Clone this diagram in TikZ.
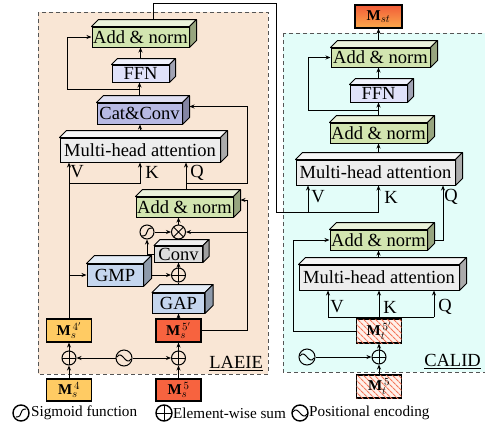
\documentclass[tikz,border=0pt]{standalone}
\usepackage{fontspec}
\setmainfont{Liberation Serif}
\usetikzlibrary{arrows.meta,calc,patterns.meta}
\pgfdeclarelayer{back}
\pgfdeclarelayer{bg}
\pgfsetlayers{back,bg,main}
\definecolor{peach}{HTML}{F9E6D5}
\definecolor{cyanp}{HTML}{E3FDF9}
\definecolor{greenb}{HTML}{D2E5B0}
\definecolor{lav}{HTML}{E0E2FA}
\definecolor{catc}{HTML}{B7B9E3}
\definecolor{mhac}{HTML}{EDEDED}
\definecolor{gmpc}{HTML}{C5D6EE}
\definecolor{convc}{HTML}{DDDDDD}
\definecolor{yel}{HTML}{FFCB63}
\definecolor{redb}{HTML}{F7633F}
\definecolor{hatchbg}{HTML}{FFF1EA}
\definecolor{hatchc}{HTML}{F4775A}
\definecolor{panelc}{HTML}{555555}
\definecolor{msttop}{HTML}{F25C38}
\definecolor{mstbot}{HTML}{FBA94C}
\tikzset{
  box/.style={draw, line width=1pt, inner sep=0pt, font=\fontsize{18.5}{20}\selectfont},
  boxline/.style={draw, line width=1pt, line join=round},
  arr/.style={line width=1pt, -{Stealth[length=5pt,width=4pt]}},
  ln/.style={line width=1pt},
  panel/.style={draw=panelc, line width=1pt, dash pattern=on 4pt off 3pt},
  mbox/.style={draw, line width=1.1pt, inner sep=0pt, minimum width=45pt, minimum height=23pt, font=\fontsize{15}{15}\selectfont},
  hatchbox/.style={mbox, fill=hatchbg, postaction={pattern={Lines[angle=-45,distance=4pt,line width=1.1pt]}, pattern color=hatchc}},
  op/.style={circle, draw, line width=1pt, minimum size=14pt, inner sep=0pt},
  plus/.style={op, path picture={\draw[line width=1pt] (path picture bounding box.north) -- (path picture bounding box.south) (path picture bounding box.west) -- (path picture bounding box.east);}},
  times/.style={op, path picture={\draw[line width=1pt] (path picture bounding box.north west) -- (path picture bounding box.south east) (path picture bounding box.north east) -- (path picture bounding box.south west);}},
  sigm/.style={op, path picture={\draw[line width=1pt] ($(path picture bounding box.center)+(-5,4)$) .. controls ($(path picture bounding box.center)+(3,4)$) and ($(path picture bounding box.center)+(-3,-4)$) .. ($(path picture bounding box.center)+(5,-4)$);}},
  pewave/.style={op, path picture={\draw[line width=1pt] ($(path picture bounding box.center)+(-7,-1)$) .. controls ($(path picture bounding box.center)+(-2,-9)$) and ($(path picture bounding box.center)+(2,9)$) .. ($(path picture bounding box.center)+(7,1)$);}},
  leg/.style={minimum size=16pt, line width=1.4pt},
  lab/.style={font=\fontsize{18.5}{20}\selectfont, inner sep=0pt},
  legt/.style={font=\fontsize{15.2}{18}\selectfont, inner sep=0pt, anchor=west},
}
\newcommand\mkblock[7]{%
  \node[box, fill=#6, minimum width=#3pt, minimum height=#4pt] (#1) at (#2) {#7};
  \draw[boxline, fill=#6!45!white] (#1.north west) -- ++(#5,-#5) -- ([shift={(#5,-#5)}]#1.north east) -- (#1.north east) -- cycle;
  \draw[boxline, fill=#6!72!black] (#1.north east) -- ++(#5,-#5) -- ([shift={(#5,-#5)}]#1.south east) -- (#1.south east) -- cycle;
}
\begin{document}
\begin{tikzpicture}[x=1pt,y=-1pt]
\useasboundingbox (0,0) rectangle (485,432);
\begin{pgfonlayer}{back}
  \fill[white] (0,0) rectangle (485,432);
  \draw[panel, fill=peach] (38,12) rectangle (268,374);
  \draw[panel, fill=cyanp] (283,33) rectangle (495,372);
\end{pgfonlayer}

% ---------- LAEIE ----------
\mkblock{an1}{140.5,37}{97}{20}{7}{greenb}{Add \& norm}
\mkblock{ffn1}{140.5,73.5}{57}{17}{6}{lav}{FFN}
\mkblock{cat}{139.5,113.5}{85}{21}{7}{catc}{Cat\&Conv}
\mkblock{mha1}{140,150}{160}{24}{7}{mhac}{Multi-head attention}
\mkblock{an2}{184.5,207}{97}{20}{7}{greenb}{Add \& norm}
\mkblock{conv}{178.5,254}{48}{16}{6}{convc}{Conv}
\mkblock{gmp}{115,275}{56}{22}{8}{gmpc}{GMP}
\mkblock{gap}{178.5,303}{52}{20}{8}{gmpc}{GAP}
\node[times] (otimes) at (178.5,232) {};
\node[sigm] (sig) at (147,232) {};
\node[plus] (oplus1) at (178.5,275) {};
\node[mbox, fill=yel] (m4p) at (69,330.5) {$\mathbf{M}_{s}^{\,4'}$};
\node[mbox, fill=redb] (m5p) at (178.5,330.5) {$\mathbf{M}_{s}^{\,5'}$};
\node[plus] (opL) at (69,358) {};
\node[pewave, minimum size=16pt] (pe1) at (124,358) {};
\node[plus] (opR) at (178.5,358) {};
\node[mbox, fill=yel, minimum height=22pt] (m4) at (69,390) {$\mathbf{M}_{s}^{\,4}$};
\node[mbox, fill=redb, minimum height=22pt] (m5) at (178.5,390) {$\mathbf{M}_{s}^{\,5}$};
\node[lab, anchor=south east] (laeie) at (263,371) {\underline{LAEIE}};
\node[lab] (lv1) at (77,172) {V};
\node[lab] (lk1) at (152,172) {K};
\node[lab] (lq1) at (197,173) {Q};

% ---------- CALID ----------
\node[mbox, draw, minimum width=47pt, top color=msttop, bottom color=mstbot] (mst) at (378.5,16.5) {$\mathbf{M}_{st}$};
\mkblock{an3}{380.5,57.5}{99}{19}{7}{greenb}{Add \& norm}
\mkblock{ffn2}{378.5,93.5}{57}{17}{6}{lav}{FFN}
\mkblock{an4}{378.5,133}{97}{20}{7}{greenb}{Add \& norm}
\mkblock{mha2}{375.5,172.5}{159}{25}{7}{mhac}{Multi-head attention}
\mkblock{an5}{378.5,240}{97}{20}{7}{greenb}{Add \& norm}
\mkblock{mha3}{379,277.5}{160}{25}{7}{mhac}{Multi-head attention}
\node[hatchbox, minimum height=24pt] (mt5p) at (379,331) {$\mathbf{M}_{t}^{\,5'}$};
\node[plus] (opC) at (379,357) {};
\node[pewave, minimum size=16pt] (peC) at (307,357) {};
\node[hatchbox] (mt5) at (379,386.5) {$\mathbf{M}_{t}^{\,5}$};
\node[lab, anchor=south east] (calid) at (481,369) {\underline{CALID}};
\node[lab] (lv2) at (318,197) {V};
\node[lab] (lk2) at (391,197) {K};
\node[lab] (lq2) at (451,197) {Q};
\node[lab] (lv3) at (337,307) {V};
\node[lab] (lk3) at (390,307) {K};
\node[lab] (lq3) at (445,307) {Q};

% ---------- legend ----------
\node[sigm, leg] (lg1) at (21,413) {};
\node[legt] (lt1) at (31,413) {Sigmoid function};
\node[plus, leg] (lg2) at (164,413) {};
\node[legt] (lt2) at (173,413) {Element-wise sum};
\node[pewave, leg] (lg3) at (300,413) {};
\node[legt] (lt3) at (309,413) {Positional encoding};

% ---------- helper coordinates ----------
\coordinate (lx) at (67,0);
\coordinate (rx) at (247,0);
\coordinate (qx) at (186,0);
\coordinate (kb) at (69,183);
\coordinate (rb) at (139.5,89);
\coordinate (an2R) at ([shift={(7,-7)}]an2.east);
\coordinate (catR) at ([shift={(7,-7)}]cat.east);
\coordinate (t1) at ($(an1.north)+(12.5,0)$);
\coordinate (ty) at (0,3);
\coordinate (bx) at (276,0);
\coordinate (by) at (0,212);
\coordinate (kx2) at (378.5,0);
\coordinate (vx2) at (308,0);
\coordinate (qx2) at (443,0);
\coordinate (rb2) at (378.5,110);
\coordinate (hb) at (0,317);
\coordinate (vx3) at (328,0);
\coordinate (qx3) at (434,0);
\coordinate (lx2) at (293,0);

\begin{pgfonlayer}{bg}
  % LAEIE
  \draw[arr] (m4.north) -- (opL.south);
  \draw[arr] (opL.north) -- (m4p.south);
  \draw[arr] (pe1.west) -- (opL.east);
  \draw[arr] (pe1.east) -- (opR.west);
  \draw[arr] (m5.north) -- (opR.south);
  \draw[arr] (opR.north) -- (m5p.south);
  \draw[arr] (m5p.north) -- (gap.south);
  \draw[arr] (gap.north) -- (oplus1.south);
  \draw[arr] (oplus1.north) -- (conv.south);
  \draw[arr] (gmp.east) -- (oplus1.west);
  \draw[arr] (conv.west) -| (sig.south);
  \draw[arr] (sig.east) -- (otimes.west);
  \draw[arr] (otimes.north) -- (otimes.north |- an2.south);
  \draw[arr] (m5p.east) -- (m5p.east -| rx) |- (an2R);
  \draw[arr] (otimes.east -| rx) -- (otimes.east);
  \draw[arr] (m4p.north) -- (mha1.south -| m4p.north);
  \draw[arr] (gmp.west -| m4p.north) -- (gmp.west);
  \draw[arr] (kb) -| (mha1.south);
  \draw[arr] (an2.north -| qx) -- (mha1.south -| qx);
  \draw[arr] (qx |- kb) -| (rx |- catR) -- (catR);
  \draw[arr] (mha1.north) -- (mha1.north |- cat.south);
  \draw[arr] (cat.north) -- (cat.north |- ffn1.south);
  \draw[arr] (ffn1.north) -- (ffn1.north |- an1.south);
  \draw[arr] (rb) -- (rb -| lx) |- (an1.west);
  % link LAEIE -> CALID
  \draw[arr] (t1) -- (t1 |- ty) -| (bx |- by) -| (mha2.south -| kx2);
  \draw[arr] (vx2 |- by) -- (mha2.south -| vx2);
  % CALID
  \draw[arr] (an5.east) -| (mha2.south -| qx2);
  \draw[arr] (an4.south |- mha2.north) -- (an4.south);
  \draw[arr] (an4.north) -- (an4.north |- ffn2.south);
  \draw[arr] (ffn2.north) -- (ffn2.north |- an3.south);
  \draw[arr] (mst.south |- an3.north) -- (mst.south);
  \draw[arr] (rb2) -- (rb2 -| vx2) |- (an3.west);
  \draw[arr] (mt5.north) -- (opC.south);
  \draw[arr] (opC.north) -- (mt5p.south);
  \draw[arr] (peC.east) -- (opC.west);
  \draw[ln] (vx3 |- hb) -- (qx3 |- hb);
  \draw[ln] (mt5p.north) -- (mt5p.north |- hb);
  \draw[arr] (vx3 |- hb) -- (mha3.south -| vx3);
  \draw[arr] (mt5p.north |- hb) -- (mha3.south -| mt5p.north);
  \draw[arr] (qx3 |- hb) -- (mha3.south -| qx3);
  \draw[arr] (an5.south |- mha3.north) -- (an5.south);
  \draw[arr] (mt5p.west) -- (mt5p.west -| lx2) |- (an5.west);
\end{pgfonlayer}
\end{tikzpicture}
\end{document}
